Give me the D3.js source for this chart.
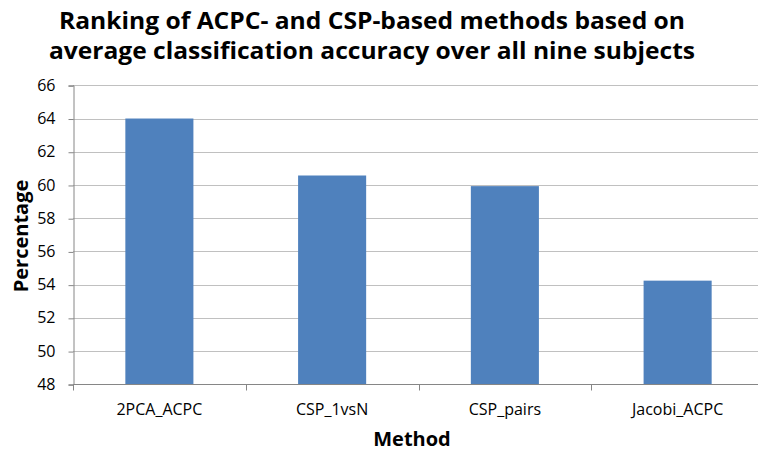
<!DOCTYPE html>
<html>
<head>
<meta charset="utf-8">
<script src="https://cdn.jsdelivr.net/npm/d3@7"></script>
<style>
  html, body { margin: 0; padding: 0; background: #fff; }
  svg { display: block; }
  text { font-family: "Open Sans", "Noto Sans", sans-serif; }
</style>
</head>
<body>
<svg id="chart" width="758" height="451"></svg>
<script>
// Average classification accuracy per method
const methods = ["2PCA_ACPC", "CSP_1vsN", "CSP_pairs", "Jacobi_ACPC"];
const accuracy = [64.0, 60.57, 59.93, 54.24];
const yTicks = [48, 50, 52, 54, 56, 58, 60, 62, 64, 66];
const titleLines = [
  "Ranking of ACPC- and CSP-based methods based on",
  "average classification accuracy over all nine subjects"
];

const svg = d3.select("#chart");
const plot = { left: 73, right: 764, top: 85.3, bottom: 384.3 };

const x = d3.scaleBand()
  .domain(methods)
  .range([plot.left, plot.right])
  .paddingInner(0.606)
  .paddingOuter(0.303);

const y = d3.scaleLinear()
  .domain([48, 66])
  .range([plot.bottom, plot.top]);

// Horizontal gridlines
svg.append("g")
  .selectAll("line")
  .data(yTicks)
  .join("line")
  .attr("x1", plot.left)
  .attr("x2", plot.right)
  .attr("y1", d => Math.round(y(d)) + 0.5)
  .attr("y2", d => Math.round(y(d)) + 0.5)
  .attr("stroke", "#c0c0c0")
  .attr("stroke-width", 1);

// Bars
svg.append("g")
  .selectAll("rect")
  .data(methods)
  .join("rect")
  .attr("x", d => x(d))
  .attr("width", x.bandwidth())
  .attr("y", (d, i) => y(accuracy[i]))
  .attr("height", (d, i) => y(48) - y(accuracy[i]))
  .attr("fill", "#4f81bd");

// Y axis
const yAxis = svg.append("g")
  .attr("transform", `translate(${plot.left + 0.5},0)`)
  .call(d3.axisLeft(y).tickValues(yTicks).tickSize(5).tickPadding(13).tickFormat(d3.format("d")));
yAxis.select(".domain").attr("stroke", "#868686");
yAxis.selectAll(".tick line").attr("stroke", "#868686")
  .attr("transform", "translate(0,0.5)");
yAxis.selectAll(".tick text")
  .attr("font-size", 16)
  .attr("fill", "#000")
  .style("font-family", "'Open Sans', sans-serif");

// X axis with tick marks at category boundaries
const xAxisG = svg.append("g")
  .attr("transform", `translate(0,${Math.round(plot.bottom) + 0.5})`);
xAxisG.append("line")
  .attr("x1", plot.left).attr("x2", plot.right)
  .attr("stroke", "#868686");
const boundaries = methods.map(m => x(m) - x.step() * x.paddingInner() / 2);
boundaries[0] = plot.left;
xAxisG.selectAll(".bt")
  .data(boundaries)
  .join("line")
  .attr("class", "bt")
  .attr("x1", d => Math.round(d) + 0.5)
  .attr("x2", d => Math.round(d) + 0.5)
  .attr("y1", 0).attr("y2", 6)
  .attr("stroke", "#868686");
xAxisG.selectAll(".lbl")
  .data(methods)
  .join("text")
  .attr("class", "lbl")
  .attr("x", d => x(d) + x.bandwidth() / 2)
  .attr("y", 30.5)
  .attr("text-anchor", "middle")
  .attr("font-size", 16)
  .attr("fill", "#000")
  .text(d => d);

// Axis titles
svg.append("text")
  .attr("x", 412).attr("y", 446)
  .attr("text-anchor", "middle")
  .attr("font-size", 20).attr("font-weight", "bold")
  .text("Method");

svg.append("text")
  .attr("transform", "translate(28,236) rotate(-90)")
  .attr("text-anchor", "middle")
  .attr("font-size", 20).attr("font-weight", "bold")
  .text("Percentage");

// Chart title
svg.append("g")
  .selectAll("text")
  .data(titleLines)
  .join("text")
  .attr("x", 372)
  .attr("y", (d, i) => 29 + i * 30)
  .attr("text-anchor", "middle")
  .attr("font-size", 24)
  .attr("font-weight", "bold")
  .attr("textLength", (d, i) => i === 0 ? 626 : 646)
  .attr("lengthAdjust", "spacingAndGlyphs")
  .text(d => d);
</script>
</body>
</html>
